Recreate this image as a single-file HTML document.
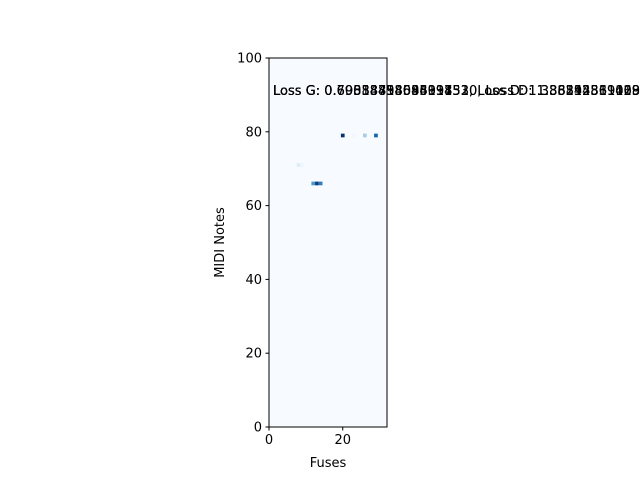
<!DOCTYPE html>
<html><head><meta charset="utf-8"><style>
body{margin:0;background:#fff;}
svg text{font-family:"DejaVu Sans","Liberation Sans",sans-serif;}
</style></head><body>
<svg id="chart" width="640" height="480" xmlns="http://www.w3.org/2000/svg">
<rect width="640" height="480" fill="#fff"/>
<g id="plot"></g>
</svg>
<script>
const notes = [79, 79, 79, 79, 71, 71, 66, 66, 66];
const fuses = [20, 23, 26, 29, 8, 9, 12, 13, 14];
const intensities = [1.0, 0.03, 0.35, 0.8, 0.12, 0.04, 0.6, 0.95, 0.7];
const xTicks = [0, 20];
const yTicks = [0, 20, 40, 60, 80, 100];
const lossTexts = [
  'Loss G: 0.6931471805599453, Loss D: 1.3862943611198906',
  'Loss G: 0.69588434696197510, Loss D: 1.38542819023132324',
  'Loss G: 0.6983389854431152, Loss D: 1.3838528394699097',
  'Loss G: 0.70058453083038330, Loss D: 1.38115561008453369'
];

const L = 269, R = 387, T = 58, B = 427;
const xMax = 32, yMax = 100;
const sx = v => L + (v / xMax) * (R - L);
const sy = v => B - (v / yMax) * (B - T);
const NS = 'http://www.w3.org/2000/svg';
const g = document.getElementById('plot');
function mk(tag, attrs, parent) {
  const e = document.createElementNS(NS, tag);
  for (const k in attrs) e.setAttribute(k, attrs[k]);
  (parent || g).appendChild(e);
  return e;
}
function blues(t) {
  const stops = [[247,251,255],[222,235,247],[198,219,239],[158,202,225],[107,174,214],[66,146,198],[33,113,181],[8,81,156],[8,48,107]];
  const p = Math.max(0, Math.min(1, t)) * (stops.length - 1);
  const i = Math.min(Math.floor(p), stops.length - 2), f = p - i;
  const c = stops[i].map((v, k) => Math.round(v + (stops[i + 1][k] - v) * f));
  return `rgb(${c[0]},${c[1]},${c[2]})`;
}
const bg = mk('rect', {x: L, y: T, width: R - L, height: B - T, fill: blues(0)});


for (let i = 0; i < notes.length; i++) {
  const c = mk('rect', {x: sx(fuses[i] - 0.5), y: sy(notes[i] + 0.5), width: sx(1) - sx(0), height: sy(0) - sy(1), fill: blues(intensities[i])});
  
  
}
const fr = mk('rect', {x: L, y: T, width: R - L, height: B - T, fill: 'none', stroke: '#000', 'stroke-width': 1});


xTicks.forEach(v => {
  mk('line', {x1: sx(v), x2: sx(v), y1: B, y2: B + 3.5, stroke: '#000'});
  const t = mk('text', {x: sx(v), y: B + 17, 'text-anchor': 'middle', 'font-size': 13});
  t.textContent = v;
  
  
});
yTicks.forEach(v => {
  mk('line', {x1: L - 3.5, x2: L, y1: sy(v), y2: sy(v), stroke: '#000'});
  const t = mk('text', {x: L - 7, y: sy(v) + 4.5, 'text-anchor': 'end', 'font-size': 13});
  t.textContent = v;
  
  
});
const xl = mk('text', {x: (L + R) / 2, y: 467, 'text-anchor': 'middle', 'font-size': 13});
xl.textContent = 'Fuses';


const yl = mk('text', {x: 224, y: (T + B) / 2, 'text-anchor': 'middle', 'font-size': 13, transform: `rotate(-90 224 ${(T + B) / 2})`});
yl.textContent = 'MIDI Notes';


lossTexts.forEach(s => {
  const t = mk('text', {x: 273, y: 95, 'font-size': 13});
  t.textContent = s;
  
  
});
</script>
</body></html>
